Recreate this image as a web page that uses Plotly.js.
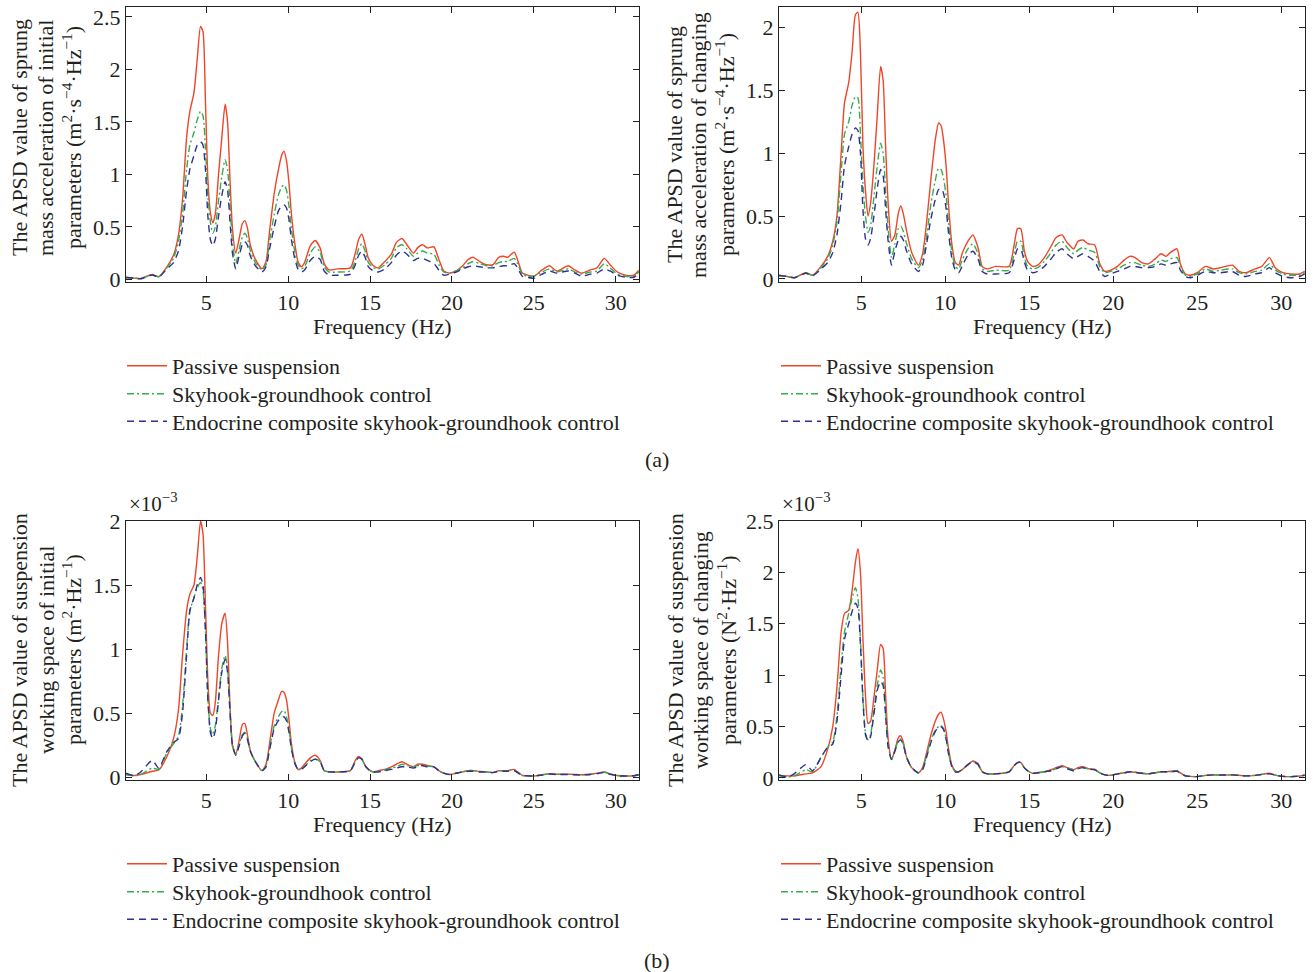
<!DOCTYPE html>
<html><head><meta charset="utf-8">
<script src="https://cdn.plot.ly/plotly-3.0.1.min.js"></script>
<style>html,body{margin:0;padding:0;background:#fff}#chart{width:1314px;height:972px}</style>
</head><body><div id="chart"></div>
<script>
// Frequency grid (Hz)
const freq = [0.1,0.6,1.0,1.7,2.1,2.6,3.0,3.3,3.55,3.8,
 4.0,4.25,4.45,4.65,4.8,4.95,5.1,5.25,5.4,5.55,
 5.75,5.95,6.15,6.3,6.45,6.6,6.8,7.0,7.2,7.35,
 7.5,7.7,8.0,8.4,8.65,8.85,9.15,9.4,9.6,9.75,
 9.9,10.05,10.2,10.4,10.6,10.8,11.0,11.35,11.65,11.95,
 12.2,12.5,13.0,13.8,14.1,14.3,14.5,14.7,14.9,15.2,
 15.5,15.9,16.3,16.6,16.95,17.25,17.65,17.9,18.2,18.5,
 18.9,19.2,19.5,19.85,20.25,20.65,21.0,21.3,21.7,22.1,
 22.5,22.85,23.15,23.4,23.8,24.0,24.3,24.6,25.0,25.5,
 25.95,26.4,27.1,27.5,27.9,28.45,28.85,29.3,29.65,30.1,
 30.6,31.1,31.4];

const seriesNames = ['Passive suspension','Skyhook-groundhook control','Endocrine composite skyhook-groundhook control'];

// (a) left: sprung mass acceleration, initial parameters
const passiveA1 = [0.016,0.012,0.008,0.047,0.025,0.12,0.23,0.42,0.76,1.35,
 1.6,1.78,2.1,2.41,2.36,1.7,0.95,0.64,0.54,0.62,
 1.0,1.35,1.67,1.5,0.95,0.48,0.25,0.38,0.53,0.56,
 0.5,0.32,0.19,0.1,0.17,0.44,0.82,1.04,1.18,1.22,
 1.13,0.92,0.62,0.35,0.17,0.12,0.16,0.32,0.37,0.3,
 0.15,0.09,0.1,0.11,0.25,0.38,0.43,0.33,0.2,0.13,
 0.11,0.17,0.24,0.35,0.39,0.33,0.25,0.3,0.33,0.3,
 0.31,0.19,0.08,0.06,0.08,0.13,0.19,0.21,0.17,0.14,
 0.14,0.21,0.22,0.21,0.26,0.19,0.06,0.04,0.03,0.09,
 0.13,0.08,0.13,0.09,0.06,0.09,0.11,0.2,0.14,0.07,
 0.04,0.04,0.085];
const skyA1 = [0.016,0.012,0.008,0.045,0.025,0.11,0.2,0.36,0.62,1.05,
 1.28,1.4,1.52,1.6,1.56,1.25,0.8,0.55,0.44,0.5,
 0.75,0.98,1.14,1.05,0.72,0.35,0.15,0.28,0.4,0.44,
 0.4,0.27,0.16,0.09,0.14,0.35,0.62,0.8,0.88,0.9,
 0.85,0.7,0.48,0.27,0.14,0.1,0.12,0.25,0.31,0.26,
 0.12,0.07,0.07,0.08,0.18,0.29,0.34,0.27,0.16,0.11,
 0.1,0.14,0.2,0.3,0.33,0.29,0.22,0.25,0.27,0.25,
 0.24,0.14,0.07,0.06,0.08,0.11,0.15,0.17,0.15,0.13,
 0.13,0.16,0.17,0.17,0.2,0.15,0.05,0.03,0.03,0.07,
 0.1,0.07,0.1,0.07,0.05,0.07,0.08,0.15,0.11,0.05,
 0.03,0.03,0.07];
const endoA1 = [0.02,0.01,0.006,0.042,0.022,0.1,0.16,0.27,0.5,0.85,
 1.05,1.18,1.28,1.31,1.28,1.05,0.6,0.38,0.32,0.38,
 0.6,0.8,0.93,0.85,0.55,0.25,0.1,0.22,0.33,0.36,
 0.33,0.22,0.13,0.07,0.12,0.28,0.5,0.65,0.7,0.71,
 0.68,0.57,0.38,0.2,0.1,0.07,0.09,0.18,0.22,0.19,
 0.08,0.04,0.04,0.05,0.14,0.23,0.27,0.21,0.12,0.08,
 0.07,0.1,0.16,0.23,0.27,0.24,0.18,0.2,0.2,0.18,
 0.15,0.09,0.04,0.05,0.07,0.1,0.12,0.13,0.12,0.11,
 0.11,0.12,0.13,0.13,0.15,0.11,0.03,0.02,0.01,0.05,
 0.08,0.06,0.08,0.06,0.03,0.05,0.06,0.1,0.08,0.04,
 0.02,0.02,0.06];

// (a) right: sprung mass acceleration, changing parameters
const passiveA2 = [0.025,0.02,0.01,0.05,0.03,0.1,0.18,0.3,0.5,1.0,
 1.4,1.56,1.8,2.1,2.12,1.8,1.05,0.7,0.5,0.6,
 0.9,1.3,1.69,1.58,1.05,0.6,0.3,0.35,0.52,0.58,
 0.52,0.38,0.21,0.11,0.2,0.4,0.8,1.1,1.24,1.22,
 1.1,0.9,0.58,0.27,0.13,0.11,0.2,0.3,0.35,0.25,
 0.1,0.08,0.1,0.1,0.27,0.4,0.4,0.23,0.14,0.1,
 0.11,0.17,0.26,0.33,0.35,0.29,0.24,0.3,0.31,0.28,
 0.27,0.12,0.06,0.07,0.1,0.15,0.18,0.17,0.13,0.12,
 0.16,0.2,0.18,0.21,0.24,0.12,0.04,0.03,0.05,0.1,
 0.08,0.09,0.11,0.06,0.05,0.08,0.1,0.17,0.09,0.05,
 0.04,0.04,0.06];
const skyA2 = [0.025,0.02,0.01,0.048,0.03,0.09,0.16,0.27,0.45,0.85,
 1.15,1.25,1.38,1.45,1.44,1.15,0.75,0.5,0.37,0.42,
 0.65,0.9,1.08,1.0,0.7,0.4,0.17,0.28,0.4,0.42,
 0.38,0.28,0.16,0.09,0.15,0.3,0.6,0.78,0.88,0.87,
 0.8,0.66,0.44,0.21,0.1,0.08,0.15,0.24,0.28,0.2,
 0.08,0.06,0.07,0.07,0.2,0.3,0.3,0.18,0.1,0.08,
 0.09,0.14,0.21,0.27,0.3,0.25,0.2,0.23,0.25,0.23,
 0.21,0.1,0.05,0.06,0.08,0.11,0.13,0.13,0.11,0.1,
 0.12,0.15,0.14,0.16,0.17,0.1,0.03,0.02,0.04,0.08,
 0.06,0.07,0.08,0.05,0.04,0.06,0.07,0.12,0.07,0.04,
 0.03,0.03,0.05];
const endoA2 = [0.03,0.02,0.01,0.045,0.025,0.08,0.13,0.21,0.35,0.62,
 0.9,1.05,1.15,1.2,1.18,1.0,0.55,0.32,0.27,0.32,
 0.5,0.72,0.87,0.82,0.55,0.3,0.11,0.22,0.31,0.34,
 0.31,0.22,0.12,0.06,0.11,0.25,0.48,0.63,0.71,0.72,
 0.68,0.56,0.36,0.16,0.07,0.05,0.1,0.19,0.22,0.16,
 0.06,0.04,0.04,0.05,0.15,0.24,0.24,0.14,0.07,0.05,
 0.06,0.1,0.16,0.21,0.24,0.2,0.16,0.18,0.2,0.18,
 0.14,0.06,0.02,0.04,0.06,0.08,0.1,0.1,0.09,0.09,
 0.1,0.12,0.11,0.12,0.13,0.07,0.02,0.01,0.03,0.06,
 0.05,0.05,0.06,0.03,0.02,0.04,0.05,0.09,0.05,0.02,
 0.01,0.02,0.04];

// (b) left: suspension working space, initial parameters (x1e-3)
const passiveB1 = [0.02,0.012,0.02,0.045,0.055,0.16,0.3,0.52,0.95,1.3,
 1.43,1.5,1.72,2.0,1.9,1.35,0.75,0.5,0.48,0.58,
 0.95,1.2,1.28,1.05,0.56,0.24,0.18,0.28,0.41,0.42,
 0.34,0.2,0.12,0.05,0.1,0.25,0.5,0.6,0.67,0.66,
 0.6,0.45,0.26,0.12,0.06,0.07,0.1,0.15,0.17,0.13,
 0.05,0.04,0.04,0.05,0.13,0.16,0.14,0.09,0.06,0.04,
 0.05,0.06,0.08,0.1,0.12,0.1,0.08,0.1,0.1,0.09,
 0.08,0.05,0.03,0.02,0.03,0.04,0.05,0.05,0.044,0.04,
 0.035,0.05,0.05,0.05,0.06,0.04,0.013,0.01,0.008,0.018,
 0.026,0.022,0.022,0.02,0.018,0.022,0.03,0.04,0.025,0.012,
 0.008,0.01,0.02];
const skyB1 = [0.02,0.01,0.02,0.07,0.06,0.19,0.26,0.32,0.55,1.0,
 1.3,1.4,1.48,1.52,1.46,1.15,0.62,0.38,0.33,0.4,
 0.62,0.85,0.95,0.85,0.52,0.26,0.17,0.25,0.33,0.35,
 0.31,0.2,0.12,0.05,0.09,0.22,0.4,0.47,0.51,0.52,
 0.47,0.38,0.23,0.11,0.06,0.06,0.08,0.13,0.14,0.12,
 0.05,0.04,0.04,0.05,0.12,0.15,0.14,0.09,0.06,0.04,
 0.045,0.055,0.07,0.08,0.1,0.09,0.08,0.09,0.09,0.085,
 0.08,0.05,0.03,0.02,0.03,0.04,0.05,0.05,0.042,0.04,
 0.035,0.048,0.048,0.048,0.055,0.038,0.012,0.01,0.008,0.017,
 0.025,0.021,0.021,0.019,0.017,0.021,0.028,0.038,0.024,0.011,
 0.008,0.01,0.019];
const endoB1 = [0.03,0.01,0.04,0.13,0.07,0.2,0.27,0.3,0.5,0.95,
 1.3,1.4,1.5,1.56,1.5,1.15,0.6,0.35,0.3,0.36,
 0.6,0.82,0.92,0.82,0.5,0.25,0.17,0.24,0.32,0.34,
 0.3,0.2,0.12,0.05,0.08,0.2,0.38,0.44,0.47,0.47,
 0.44,0.35,0.22,0.11,0.06,0.06,0.08,0.12,0.14,0.12,
 0.05,0.04,0.04,0.05,0.12,0.15,0.14,0.09,0.06,0.04,
 0.04,0.05,0.06,0.07,0.08,0.08,0.07,0.08,0.09,0.08,
 0.08,0.05,0.03,0.02,0.03,0.04,0.045,0.045,0.04,0.04,
 0.035,0.045,0.045,0.045,0.05,0.035,0.012,0.01,0.008,0.016,
 0.024,0.02,0.02,0.018,0.016,0.02,0.026,0.035,0.022,0.01,
 0.008,0.01,0.018];

// (b) right: suspension working space, changing parameters (x1e-3)
const passiveB2 = [0.025,0.02,0.02,0.04,0.05,0.11,0.28,0.5,0.88,1.42,
 1.6,1.63,1.82,2.1,2.23,2.0,1.35,0.8,0.53,0.55,
 0.78,1.05,1.3,1.26,0.8,0.38,0.18,0.27,0.39,0.41,
 0.35,0.2,0.1,0.05,0.1,0.22,0.42,0.55,0.62,0.64,
 0.57,0.45,0.28,0.12,0.07,0.06,0.08,0.13,0.165,0.14,
 0.06,0.04,0.04,0.06,0.12,0.15,0.15,0.1,0.07,0.045,
 0.05,0.06,0.08,0.1,0.12,0.1,0.08,0.1,0.11,0.09,
 0.085,0.05,0.03,0.026,0.04,0.05,0.06,0.055,0.045,0.04,
 0.05,0.06,0.06,0.065,0.07,0.05,0.02,0.015,0.013,0.025,
 0.03,0.028,0.03,0.025,0.02,0.025,0.035,0.045,0.028,0.015,
 0.013,0.018,0.026];
const skyB2 = [0.02,0.01,0.02,0.08,0.06,0.2,0.3,0.35,0.6,1.1,
 1.42,1.6,1.75,1.85,1.75,1.35,0.78,0.44,0.37,0.42,
 0.65,0.9,1.05,0.98,0.65,0.32,0.18,0.27,0.36,0.38,
 0.33,0.2,0.1,0.05,0.09,0.2,0.37,0.46,0.5,0.51,
 0.48,0.39,0.24,0.11,0.06,0.06,0.08,0.13,0.16,0.13,
 0.06,0.04,0.04,0.06,0.12,0.15,0.15,0.1,0.07,0.045,
 0.05,0.06,0.07,0.09,0.11,0.1,0.08,0.09,0.1,0.09,
 0.08,0.05,0.03,0.026,0.04,0.05,0.06,0.055,0.045,0.04,
 0.05,0.06,0.06,0.06,0.068,0.048,0.02,0.015,0.013,0.025,
 0.03,0.028,0.03,0.025,0.02,0.025,0.035,0.042,0.028,0.015,
 0.013,0.018,0.026];
const endoB2 = [0.03,0.01,0.04,0.13,0.07,0.2,0.3,0.33,0.55,1.0,
 1.35,1.5,1.62,1.7,1.65,1.3,0.75,0.42,0.36,0.4,
 0.62,0.85,0.94,0.9,0.6,0.3,0.18,0.26,0.35,0.37,
 0.32,0.2,0.1,0.05,0.08,0.18,0.35,0.45,0.5,0.5,
 0.47,0.38,0.23,0.11,0.06,0.06,0.08,0.13,0.16,0.13,
 0.06,0.04,0.04,0.06,0.12,0.15,0.15,0.1,0.07,0.045,
 0.05,0.06,0.07,0.09,0.11,0.09,0.07,0.09,0.1,0.085,
 0.08,0.05,0.03,0.026,0.04,0.05,0.06,0.055,0.045,0.04,
 0.05,0.06,0.06,0.06,0.065,0.045,0.02,0.015,0.013,0.025,
 0.03,0.028,0.03,0.025,0.02,0.025,0.035,0.04,0.028,0.015,
 0.013,0.018,0.026];

const xTicks = [5,10,15,20,25,30];
const yTicksA1 = [0,0.5,1,1.5,2,2.5];
const yTicksA2 = [0,0.5,1,1.5,2];
const yTicksB1 = [0,0.5,1,1.5,2];
const yTicksB2 = [0,0.5,1,1.5,2,2.5];

const titlesY = [
  ['The APSD value of sprung','mass acceleration of initial','parameters (m<sup>2</sup>·s<sup>−4</sup>·Hz<sup>−1</sup>)'],
  ['The APSD value of sprung','mass acceleration of changing','parameters (m<sup>2</sup>·s<sup>−4</sup>·Hz<sup>−1</sup>)'],
  ['The APSD value of suspension','working space of initial','parameters (m<sup>2</sup>·Hz<sup>−1</sup>)'],
  ['The APSD value of suspension','working space of changing','parameters (N<sup>2</sup>·Hz<sup>−1</sup>)']
];
const xTitle = 'Frequency (Hz)';

const W = 1314, H = 972;
const px = v => v / W, py = v => 1 - v / H;
const FONT = 'Liberation Serif, Times New Roman, serif';
const TXT = '#231f20';
const colors = ['#ef4528', '#35ad4f', '#2e3192'];
const dashes = ['solid', '7px,3px,2px,3px', '7px,5px'];

const panels = [
  {box:[126,639,7,282], yr:[-0.025,2.595], yt:yTicksA1, series:[passiveA1,skyA1,endoA1], tX:[20,46,72], tY:138, leg:[125,[366,394,421.5]], xtY:326},
  {box:[779,1305,7,282], yr:[-0.024,2.162], yt:yTicksA2, series:[passiveA2,skyA2,endoA2], tX:[675,699,725], tY:145, leg:[779,[366,394,421.5]], xtY:326},
  {box:[126,639,521,780], yr:[-0.023,2.0], yt:yTicksB1, series:[passiveB1,skyB1,endoB1], tX:[19,46,72], tY:650, leg:[125,[864,892,919.5]], xtY:824, exp:true},
  {box:[779,1305,521,780], yr:[-0.02,2.5], yt:yTicksB2, series:[passiveB2,skyB2,endoB2], tX:[675,700,727], tY:650, leg:[779,[864,892,919.5]], xtY:824, exp:true}
];

const traces = [];
const layout = {
  width: W, height: H,
  margin: {l:0, r:0, t:0, b:0},
  paper_bgcolor: '#fff', plot_bgcolor: '#fff',
  font: {family: FONT, size: 22, color: TXT},
  showlegend: true,
  annotations: [],
  hovermode: false
};

let legIdx = 0;
panels.forEach((p, i) => {
  const n = i + 1;
  const xa = 'xaxis' + (n === 1 ? '' : n), ya = 'yaxis' + (n === 1 ? '' : n);
  const xr = 'x' + (n === 1 ? '' : n), yr = 'y' + (n === 1 ? '' : n);
  layout[xa] = {
    domain: [px(p.box[0]), px(p.box[1])], anchor: yr,
    range: [0.1, 31.42], tickvals: xTicks, ticktext: xTicks.map(String),
    ticks: 'inside', ticklen: 6, tickcolor: '#222', mirror: 'allticks',
    showline: true, linecolor: '#222', linewidth: 1.2,
    showgrid: false, zeroline: false,
    tickfont: {family: FONT, size: 22, color: TXT}
  };
  layout[ya] = {
    domain: [py(p.box[3]), py(p.box[2])], anchor: xr,
    range: p.yr, tickvals: p.yt, ticktext: p.yt.map(String),
    ticks: 'inside', ticklen: 6, tickcolor: '#222', mirror: 'allticks',
    showline: true, linecolor: '#222', linewidth: 1.2,
    showgrid: false, zeroline: false,
    tickfont: {family: FONT, size: 22, color: TXT}
  };
  p.series.forEach((ys, k) => {
    legIdx++;
    const lg = 'legend' + (legIdx === 1 ? '' : legIdx);
    traces.push({
      type: 'scatter', mode: 'lines', x: freq, y: ys,
      xaxis: xr, yaxis: yr, name: seriesNames[k], legend: lg,
      line: {color: colors[k], width: 1.4, dash: dashes[k], shape: 'spline', smoothing: 0.6},
      hoverinfo: 'skip'
    });
    layout[lg] = {
      x: px(p.leg[0] - 3), xanchor: 'left', xref: 'paper',
      y: py(p.leg[1][k]), yanchor: 'middle', yref: 'paper',
      bgcolor: 'rgba(0,0,0,0)', borderwidth: 0, itemwidth: 40,
      font: {family: FONT, size: 22, color: TXT},
      itemclick: false, itemdoubleclick: false
    };
  });
  // y title lines
  titlesY[i].forEach((t, j) => {
    layout.annotations.push({
      text: t, xref: 'paper', yref: 'paper', x: px(p.tX[j]), y: py(p.tY),
      xanchor: 'center', yanchor: 'middle', textangle: -90, showarrow: false,
      font: {family: FONT, size: 22, color: TXT}
    });
  });
  // x title
  layout.annotations.push({
    text: xTitle, xref: 'paper', yref: 'paper', x: px((p.box[0] + p.box[1]) / 2), y: py(p.xtY),
    xanchor: 'center', yanchor: 'middle', showarrow: false,
    font: {family: FONT, size: 22, color: TXT}
  });
  if (p.exp) {
    layout.annotations.push({
      text: '×10<sup>−3</sup>', xref: 'paper', yref: 'paper', x: px(p.box[0] + 1), y: py(502),
      xanchor: 'left', yanchor: 'middle', showarrow: false,
      font: {family: FONT, size: 21, color: TXT}
    });
  }
});
layout.annotations.push({text: '(a)', xref: 'paper', yref: 'paper', x: px(657), y: py(459), xanchor: 'center', yanchor: 'middle', showarrow: false, font: {family: FONT, size: 22, color: TXT}});
layout.annotations.push({text: '(b)', xref: 'paper', yref: 'paper', x: px(657), y: py(960), xanchor: 'center', yanchor: 'middle', showarrow: false, font: {family: FONT, size: 22, color: TXT}});

Plotly.newPlot('chart', traces, layout, {staticPlot: true, displayModeBar: false});
</script>
</body></html>
